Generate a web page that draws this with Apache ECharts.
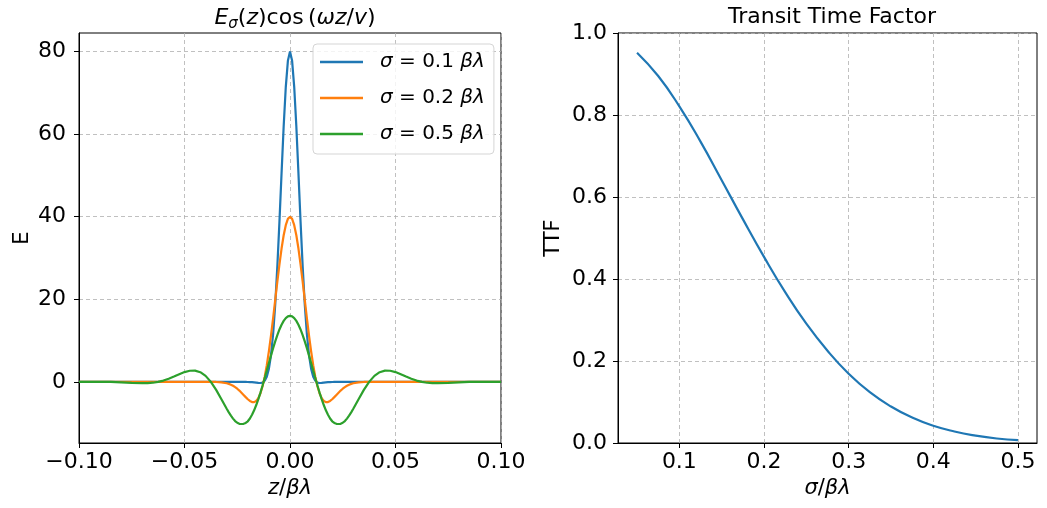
<!DOCTYPE html>
<html><head><meta charset="utf-8">
<script src="https://cdn.jsdelivr.net/npm/echarts@6/dist/echarts.min.js"></script>
<style>html,body{margin:0;padding:0;background:#fff}#c{width:1047px;height:508px}</style>
</head><body><div id="c"></div>
<script>
// z / βλ sample positions (left panel)
const zVals = [-0.1,-0.095,-0.09,-0.085,-0.08,-0.075,-0.07,-0.0675,-0.065,-0.0625,-0.06,-0.0575,-0.055,-0.0525,-0.05,-0.0475,-0.045,-0.0425,-0.04,-0.0375,-0.035,-0.0325,
-0.03,-0.029,-0.028,-0.027,-0.026,-0.025,-0.024,-0.023,-0.022,-0.021,-0.02,-0.019,-0.018,-0.017,-0.016,-0.015,-0.014,-0.013,-0.012,-0.011,-0.01,-0.009,-0.008,-0.007,-0.006,-0.005,-0.004,-0.003,-0.002,-0.001,
0,
0.001,0.002,0.003,0.004,0.005,0.006,0.007,0.008,0.009,0.01,0.011,0.012,0.013,0.014,0.015,0.016,0.017,0.018,0.019,0.02,0.021,0.022,0.023,0.024,0.025,0.026,0.027,0.028,0.029,0.03,
0.0325,0.035,0.0375,0.04,0.0425,0.045,0.0475,0.05,0.0525,0.055,0.0575,0.06,0.0625,0.065,0.0675,0.07,0.075,0.08,0.085,0.09,0.095,0.1];

// E values read for σ = 0.1 βλ
const eSigma01 = [0,0,0,0,0,0,0,0,0,0,0,0,0,0,0,0,0,0,0,0,0,0,
0,0,0,0,0,0,0,0,0,-0.01,-0.02,-0.05,-0.07,-0.12,-0.18,-0.25,-0.27,-0.16,0.27,1.27,3.21,6.52,11.61,18.76,27.98,38.86,50.57,61.9,71.41,77.76,
80,
77.76,71.41,61.9,50.57,38.86,27.98,18.76,11.61,6.52,3.21,1.27,0.27,-0.16,-0.27,-0.25,-0.18,-0.12,-0.07,-0.05,-0.02,-0.01,0,0,0,0,0,0,0,0,0,
0,0,0,0,0,0,0,0,0,0,0,0,0,0,0,0,0,0,0,0,0,0];

// E values read for σ = 0.2 βλ
const eSigma02 = [0,0,0,0,0,0,0,0,0,0,0,0,0,0,0,0,0,0,0,0,-0.02,-0.11,
-0.33,-0.48,-0.68,-0.94,-1.26,-1.65,-2.1,-2.61,-3.15,-3.69,-4.2,-4.62,-4.88,-4.91,-4.61,-3.92,-2.76,-1.06,1.2,4.04,7.42,11.27,15.46,19.86,24.27,28.49,32.3,35.52,37.96,39.48,
40,
39.48,37.96,35.52,32.3,28.49,24.27,19.86,15.46,11.27,7.42,4.04,1.2,-1.06,-2.76,-3.92,-4.61,-4.91,-4.88,-4.62,-4.2,-3.69,-3.15,-2.61,-2.1,-1.65,-1.26,-0.94,-0.68,-0.48,-0.33,
-0.11,-0.02,0,0,0,0,0,0,0,0,0,0,0,0,0,0,0,0,0,0,0,0];

// E values read for σ = 0.5 βλ
const eSigma05 = [0,0,0.01,-0.01,-0.1,-0.22,-0.31,-0.29,-0.2,0,0.32,0.76,1.29,1.86,2.38,2.7,2.72,2.35,1.46,0,-1.94,-4.2,
-6.51,-7.38,-8.18,-8.89,-9.48,-9.9,-10.15,-10.2,-10.15,-9.95,-9.54,-8.86,-7.97,-6.88,-5.6,-4.16,-2.58,-0.88,0.9,2.73,4.58,6.4,8.17,9.82,11.35,12.7,13.85,14.78,15.45,15.86,
16,
15.86,15.45,14.78,13.85,12.7,11.35,9.82,8.17,6.4,4.58,2.73,0.9,-0.88,-2.58,-4.16,-5.6,-6.88,-7.97,-8.86,-9.54,-9.95,-10.15,-10.2,-10.15,-9.9,-9.48,-8.89,-8.18,-7.38,-6.51,
-4.2,-1.94,0,1.46,2.35,2.72,2.7,2.38,1.86,1.29,0.76,0.32,0,-0.2,-0.29,-0.31,-0.22,-0.1,-0.01,0.01,0,0];

// right panel: σ/βλ and transit time factor
const sigmaVals = [0.05,0.075,0.1,0.125,0.15,0.175,0.2,0.225,0.25,0.275,0.3,0.325,0.35,0.375,0.4,0.425,0.45,0.475,0.5];
const ttfVals = [0.952,0.895,0.821,0.735,0.641,0.546,0.454,0.368,0.291,0.225,0.169,0.124,0.089,0.062,0.042,0.028,0.018,0.011,0.007];

const legendNames = ['σ = 0.1 βλ','σ = 0.2 βλ','σ = 0.5 βλ'];
const leftXTicks = [-0.1,-0.05,0,0.05,0.1];
const leftYTicks = [0,20,40,60,80];
const rightXTicks = [0.1,0.2,0.3,0.4,0.5];
const rightYTicks = [0,0.2,0.4,0.6,0.8,1.0];

const FONT = 'DejaVu Sans';
const colors = ['#1f77b4','#ff7f0e','#2ca02c'];
const minus = s => s.replace('-', '\u2212');
const gridLine = {show:true, lineStyle:{type:[4,3], color:'#b0b0b0', width:0.8}};
const axLine = {show:true, onZero:false, lineStyle:{color:'#000', width:1}};
const tick = vals => ({show:true, inside:false, length:5, lineStyle:{color:'#000'}, customValues: vals});
const lbl = (vals, fmt, margin) => ({show:true, customValues: vals, formatter: fmt, fontSize:22, fontFamily:FONT, color:'#000', margin: margin});
const itRich = {it:{fontStyle:'italic', fontSize:21, fontFamily:FONT, color:'#000'}};

const chart = echarts.init(document.getElementById('c'), null, {renderer:'canvas'});
const leftData = [eSigma01, eSigma02, eSigma05];
chart.setOption({
  animation:false,
  backgroundColor:'#fff',
  title:[
    {text:'{it|E}{sub|σ}({it|z})cos\u2009({it|ωz}/{it|v})', left:290, top:0, textAlign:'center',
     textStyle:{fontSize:22, fontWeight:'normal', fontFamily:FONT, color:'#000',
       rich:{it:{fontStyle:'italic', fontSize:22, fontFamily:FONT, color:'#000'},
             sub:{fontStyle:'italic', fontSize:15, fontFamily:FONT, color:'#000', padding:[12,0,0,0]}}}},
    {text:'Transit Time Factor', left:827, top:1, textAlign:'center',
     textStyle:{fontSize:22, fontWeight:'normal', fontFamily:FONT, color:'#000'}}
  ],
  legend:{
    data:legendNames.map(n => ({name:n, icon:'rect'})), left:313, top:44, orient:'vertical',
    itemWidth:43, itemHeight:2.5, itemGap:16,
    padding:[8,9,10,7],
    backgroundColor:'rgba(255,255,255,0.8)', borderColor:'#d5d5d5', borderWidth:1, borderRadius:4,
    formatter: n => n.replace('σ','{g|σ}').replace('βλ','{g|βλ}'),
    textStyle:{fontSize:20, lineHeight:20, fontFamily:FONT, color:'#000', padding:[0,0,0,12],
      rich:{g:{fontStyle:'italic', fontSize:20, lineHeight:20, fontFamily:FONT, color:'#000'}}}
  },
  grid:[
    {left:79, top:33, width:422, height:410, show:true, borderColor:'#000', borderWidth:1, backgroundColor:'transparent'},
    {left:618, top:33, width:419, height:410, show:true, borderColor:'#000', borderWidth:1, backgroundColor:'transparent'}
  ],
  xAxis:[
    {type:'value', gridIndex:0, min:-0.1, max:0.1, interval:0.05,
     axisLine:axLine, axisTick:tick(leftXTicks), splitLine:gridLine,
     axisLabel:lbl(leftXTicks, v => minus(v.toFixed(2)), 8),
     name:'{it|z}/{it|βλ}', nameLocation:'middle', nameGap:31,
     nameTextStyle:{fontSize:21, fontFamily:FONT, color:'#000', rich:itRich}},
    {type:'value', gridIndex:1, min:0.0275, max:0.5225,
     axisLine:axLine, axisTick:tick(rightXTicks), splitLine:gridLine,
     axisLabel:lbl(rightXTicks, v => v.toFixed(1), 8),
     name:'{it|σ}/{it|βλ}', nameLocation:'middle', nameGap:31,
     nameTextStyle:{fontSize:21, fontFamily:FONT, color:'#000', rich:itRich}}
  ],
  yAxis:[
    {type:'value', gridIndex:0, min:-14.8, max:84.5,
     axisLine:axLine, axisTick:tick(leftYTicks), splitLine:gridLine,
     axisLabel:lbl(leftYTicks, v => String(v), 13),
     name:'E', nameLocation:'middle', nameGap:46, nameRotate:90,
     nameTextStyle:{fontSize:21, fontFamily:FONT, color:'#000'}},
    {type:'value', gridIndex:1, min:0, max:1, interval:0.2,
     axisLine:axLine, axisTick:tick(rightYTicks), splitLine:gridLine,
     axisLabel:lbl(rightYTicks, v => v.toFixed(1), 11),
     name:'TTF', nameLocation:'middle', nameGap:54, nameRotate:90,
     nameTextStyle:{fontSize:21, fontFamily:FONT, color:'#000'}}
  ],
  series: leftData.map((arr, k) => ({
    type:'line', name:legendNames[k], xAxisIndex:0, yAxisIndex:0,
    data: zVals.map((z,i) => [z, arr[i]]),
    symbol:'none', showSymbol:false, smooth:false,
    lineStyle:{width:2.2, color:colors[k]}, itemStyle:{color:colors[k]}, z:3
  })).concat([{
    type:'line', name:'TTF', xAxisIndex:1, yAxisIndex:1,
    data: sigmaVals.map((s,i) => [s, ttfVals[i]]),
    symbol:'none', showSymbol:false, smooth:true,
    lineStyle:{width:2.2, color:colors[0]}, itemStyle:{color:colors[0]}
  }])
});
</script>
</body></html>
